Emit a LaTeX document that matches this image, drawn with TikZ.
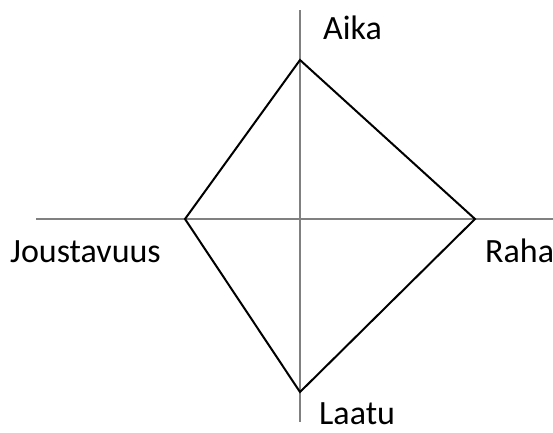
\documentclass[tikz,border=0pt]{standalone}
\usepackage{fontspec}
\setmainfont{Carlito}
\begin{document}
\begin{tikzpicture}[x=1pt,y=-1pt,
  axis/.style={draw=black!50, line width=1.5pt},
  kite/.style={draw=black, line width=2pt, line join=miter},
  lbl/.style={anchor=base west, inner sep=0pt, font=\fontsize{34}{40}\selectfont}]
\useasboundingbox (0,0) rectangle (553,432);
\coordinate (vt) at (300,10);
\coordinate (vb) at (300,422);
\coordinate (hl) at (36,219);
\coordinate (hr) at (553,219);
\draw[axis] (vt) -- (vb);
\draw[axis] (hl) -- (hr);
\coordinate (T) at (300,60);
\coordinate (R) at (475,219);
\coordinate (B) at (300,392);
\coordinate (L) at (185,219);
\draw[kite] (T) -- (R) -- (B) -- (L) -- cycle;
\node[lbl] (aika) at (323,39) {Aika};
\node[lbl] (jous) at (10,262) {Joustavuus};
\node[lbl] (raha) at (485,262) {Raha};
\node[lbl] (laatu) at (319,424) {Laatu};
\end{tikzpicture}
\end{document}
